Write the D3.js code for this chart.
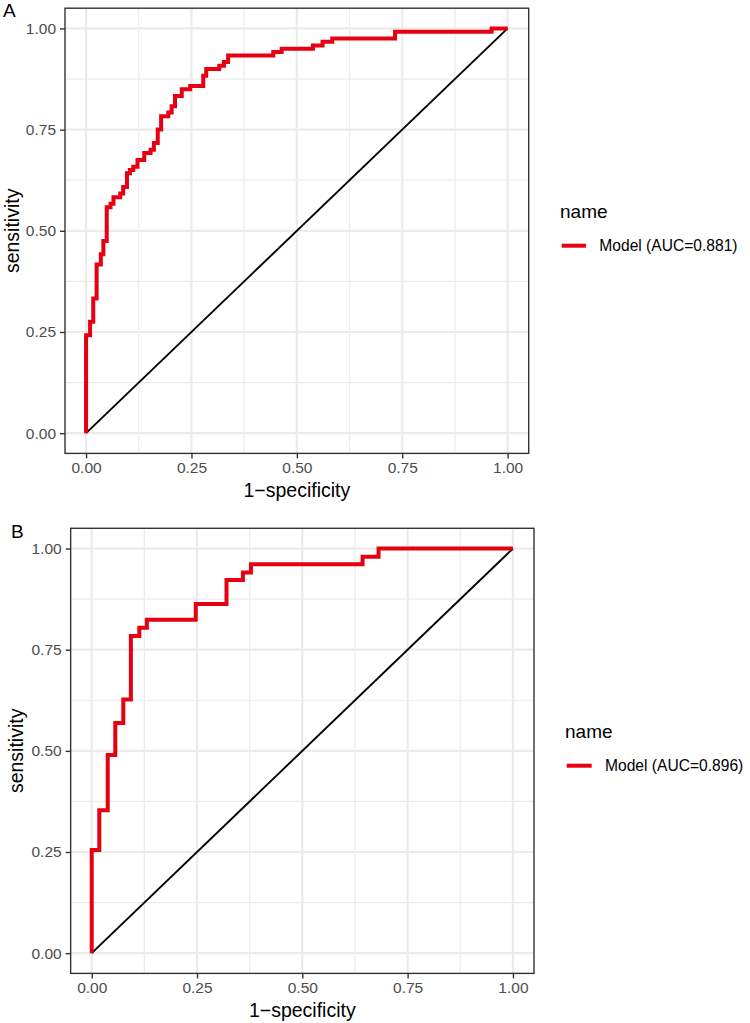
<!DOCTYPE html>
<html>
<head>
<meta charset="utf-8">
<script src="https://cdn.jsdelivr.net/npm/d3@7"></script>
<style>
  html, body { margin: 0; padding: 0; background: #fff; }
  svg { display: block; }
  text { font-family: "Liberation Sans", Arial, Helvetica, sans-serif; }
</style>
</head>
<body>
<svg id="chart" width="750" height="1023"></svg>
<script>
// ---- data ----
const majorTicks = [0, 0.25, 0.5, 0.75, 1];
const minorTicks = [0.125, 0.375, 0.625, 0.875];
const tickLabels = ["0.00", "0.25", "0.50", "0.75", "1.00"];
const xTitle = "1\u2212specificity";
const yTitle = "sensitivity";
const legendTitle = "name";
const panelTags = ["A", "B"];
const legendLabels = ["Model (AUC=0.881)", "Model (AUC=0.896)"];

// Panel A ROC (1-specificity, sensitivity)
const fprA = [0, 0, 0.0095, 0.017, 0.025, 0.035, 0.041, 0.049, 0.058, 0.065, 0.081, 0.088, 0.097, 0.104, 0.112, 0.122, 0.138, 0.153, 0.161, 0.170, 0.178, 0.195, 0.203, 0.211, 0.227, 0.247, 0.278, 0.285, 0.316, 0.327, 0.337, 0.444, 0.464, 0.538, 0.561, 0.584, 0.733, 0.962, 1];
const tprA = [0, 0.242, 0.275, 0.333, 0.417, 0.442, 0.475, 0.558, 0.567, 0.583, 0.592, 0.608, 0.642, 0.650, 0.658, 0.675, 0.692, 0.700, 0.717, 0.750, 0.783, 0.792, 0.808, 0.833, 0.850, 0.858, 0.883, 0.900, 0.908, 0.917, 0.933, 0.942, 0.950, 0.958, 0.967, 0.975, 0.992, 1.0, 1];

// Panel B ROC
const fprB = [0, 0, 0.018, 0.038, 0.056, 0.075, 0.093, 0.113, 0.131, 0.247, 0.320, 0.359, 0.378, 0.643, 0.681, 1];
const tprB = [0, 0.255, 0.353, 0.490, 0.569, 0.627, 0.784, 0.804, 0.824, 0.863, 0.922, 0.941, 0.961, 0.980, 1.0, 1];

// ---- layout ----
const panels = [
  { tag: panelTags[0], fpr: fprA, tpr: tprA, label: legendLabels[0],
    left: 65, right: 528.7, top: 8.2, bottom: 453.4,
    tagX: 3, tagY: 17, yTitleX: 18.5,
    legX: 560, legTitleY: 218, keyX0: 561.7, keyX1: 586, keyY: 245.7, legLabelX: 599.3 },
  { tag: panelTags[1], fpr: fprB, tpr: tprB, label: legendLabels[1],
    left: 70.65, right: 534, top: 528.3, bottom: 973.4,
    tagX: 11, tagY: 538, yTitleX: 23,
    legX: 565, legTitleY: 738, keyX0: 566.7, keyX1: 591.7, keyY: 765.7, legLabelX: 605 }
];

const svg = d3.select("#chart");
const red = "#E60012";

panels.forEach(p => {
  const x = d3.scaleLinear().domain([-0.05, 1.05]).range([p.left, p.right]);
  const y = d3.scaleLinear().domain([-0.05, 1.05]).range([p.bottom, p.top]);
  const g = svg.append("g");

  g.append("rect").attr("x", p.left).attr("y", p.top)
    .attr("width", p.right - p.left).attr("height", p.bottom - p.top)
    .attr("fill", "#fff");

  minorTicks.forEach(t => {
    g.append("line").attr("x1", x(t)).attr("x2", x(t)).attr("y1", p.top).attr("y2", p.bottom)
      .attr("stroke", "#EBEBEB").attr("stroke-width", 1.2);
    g.append("line").attr("y1", y(t)).attr("y2", y(t)).attr("x1", p.left).attr("x2", p.right)
      .attr("stroke", "#EBEBEB").attr("stroke-width", 1.2);
  });
  majorTicks.forEach(t => {
    g.append("line").attr("x1", x(t)).attr("x2", x(t)).attr("y1", p.top).attr("y2", p.bottom)
      .attr("stroke", "#EBEBEB").attr("stroke-width", 2.2);
    g.append("line").attr("y1", y(t)).attr("y2", y(t)).attr("x1", p.left).attr("x2", p.right)
      .attr("stroke", "#EBEBEB").attr("stroke-width", 2.2);
  });

  g.append("line").attr("x1", x(0)).attr("y1", y(0)).attr("x2", x(1)).attr("y2", y(1))
    .attr("stroke", "#000").attr("stroke-width", 1.9);

  const pts = p.fpr.map((f, i) => [f, p.tpr[i]]);
  const line = d3.line().x(d => x(d[0])).y(d => y(d[1])).curve(d3.curveStepAfter);
  g.append("path").attr("d", line(pts)).attr("fill", "none")
    .attr("stroke", red).attr("stroke-width", 4).attr("stroke-linejoin", "miter").attr("stroke-linecap", "butt");

  g.append("rect").attr("x", p.left).attr("y", p.top)
    .attr("width", p.right - p.left).attr("height", p.bottom - p.top)
    .attr("fill", "none").attr("stroke", "#333333").attr("stroke-width", 1.4);

  const xAxis = d3.axisBottom(x).tickValues(majorTicks).tickFormat((d, i) => tickLabels[i])
    .tickSizeInner(5).tickSizeOuter(0).tickPadding(4);
  const yAxis = d3.axisLeft(y).tickValues(majorTicks).tickFormat((d, i) => tickLabels[i])
    .tickSizeInner(5).tickSizeOuter(0).tickPadding(4);

  const gx = g.append("g").attr("transform", `translate(0,${p.bottom})`).call(xAxis);
  const gy = g.append("g").attr("transform", `translate(${p.left},0)`).call(yAxis);
  [gx, gy].forEach(a => {
    a.select(".domain").remove();
    a.selectAll(".tick line").attr("stroke", "#333333").attr("stroke-width", 1.4);
    a.selectAll(".tick text").attr("fill", "#4D4D4D").style("font-size", "15.5px")
      .style("font-family", "'Liberation Sans', Arial, sans-serif");
  });
  gx.selectAll(".tick text").attr("dy", "0.71em");

  g.append("text").attr("x", (x(0) + x(1)) / 2).attr("y", p.bottom + 44)
    .attr("text-anchor", "middle").style("font-size", "19.5px").attr("fill", "#000").text(xTitle);
  g.append("text").attr("transform", `translate(${p.yTitleX},${(p.top + p.bottom) / 2}) rotate(-90)`)
    .attr("text-anchor", "middle").style("font-size", "19.5px").attr("fill", "#000").text(yTitle);

  g.append("text").attr("x", p.tagX).attr("y", p.tagY).style("font-size", "19px")
    .attr("fill", "#000").text(p.tag);

  g.append("text").attr("x", p.legX).attr("y", p.legTitleY).style("font-size", "19px")
    .attr("fill", "#000").text(legendTitle);
  g.append("line").attr("x1", p.keyX0).attr("x2", p.keyX1).attr("y1", p.keyY).attr("y2", p.keyY)
    .attr("stroke", red).attr("stroke-width", 4);
  g.append("text").attr("x", p.legLabelX).attr("y", p.keyY).attr("dy", "0.36em")
    .style("font-size", "15.6px").attr("fill", "#000").text(p.label);
});
</script>
</body>
</html>
